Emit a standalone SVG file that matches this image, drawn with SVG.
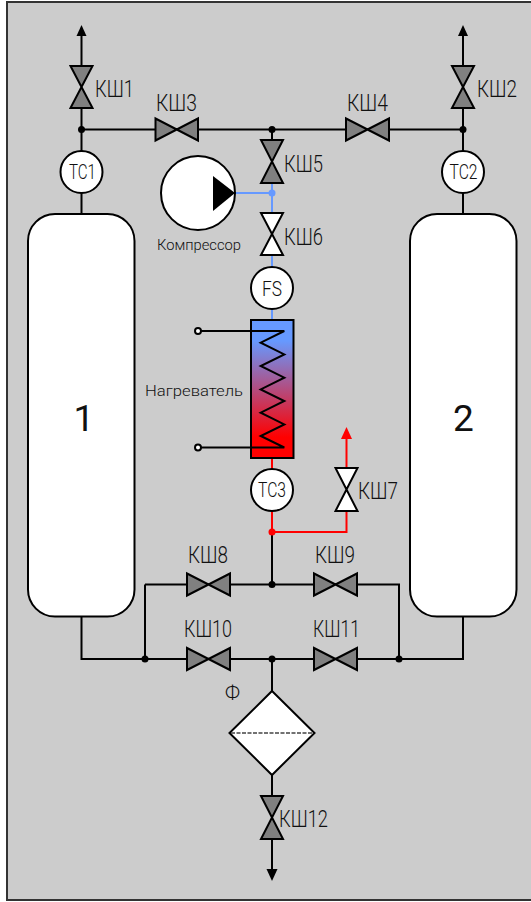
<svg xmlns="http://www.w3.org/2000/svg" width="531" height="902" viewBox="0 0 531 902">
<style>
.w{fill:none;stroke:#000;stroke-width:2}
.b{stroke:#6699ff}
.r{stroke:#ff0000}
.n{fill:#fff;stroke:#000;stroke-width:2}
.v{fill:#808080;stroke:#000;stroke-width:2;stroke-linejoin:miter}
.o{fill:#fff}
text{font-family:"Roboto","Liberation Sans",sans-serif;font-weight:300;fill:#111;font-size:23px}
.t{font-size:20px}
.s{font-size:15.500px}
.d{font-size:37px;font-weight:400;text-anchor:middle}
</style>
<defs>
<linearGradient id="heat" x1="0" y1="0" x2="0" y2="1">
<stop offset="0.15" stop-color="#6699ff"/>
<stop offset="0.85" stop-color="#ff0000"/>
</linearGradient>
</defs>
<rect x="7" y="2" width="530" height="898" fill="#cccccc" stroke="#333" stroke-width="2"/>
<g id="connectors">
<path class="w" d="M81.500 36V66M81.500 108V151M81.500 193V214M81.500 129.500H155.500M198 129.500H346M389 129.500H463M272 129.500V140M463 36V66M463 108V151M463 193V214"/>
<path class="w b" d="M235 193H272M272 183V213M272 255V267M272 309V320"/>
<path class="w r" d="M272 458V469M272 511V532M272 532H346.500V511M346.500 468V439"/>
<path class="w" d="M272 532V584.500M145 584.500H187M230 584.500H314M357 584.500H399V659M145 584.500V659M81.500 616V659H187M230 659H314M357 659H463V616M272 659V691M272 775V796M272 839V869"/>
<polygon points="81.500,25 76.500,36 86.500,36" fill="#000"/>
<polygon points="463,25 458,36 468,36" fill="#000"/>
<polygon points="346.500,427 341,439 352,439" fill="#ff0000"/>
<polygon points="272,881 266.500,869 277.500,869" fill="#000"/>
<circle cx="81.500" cy="129.500" r="3.500"/>
<circle cx="272" cy="129.500" r="3.500"/>
<circle cx="463" cy="129.500" r="3.500"/>
<circle cx="272" cy="193" r="3.500" fill="#6699ff"/>
<circle cx="272" cy="532" r="3.500" fill="#ff0000"/>
<circle cx="272" cy="584.500" r="3.500"/>
<circle cx="145" cy="659" r="3.500"/>
<circle cx="272" cy="659" r="3.500"/>
<circle cx="399" cy="659" r="3.500"/>
</g>
<g id="tank1"><rect class="n" x="28" y="214" width="106.500" height="402.500" rx="27"/><text x="84" y="431" class="d">1</text></g>
<g id="tank2"><rect class="n" x="410" y="214" width="106.500" height="402.500" rx="27"/><text x="463.500" y="431" class="d">2</text></g>
<g id="tc1"><circle class="n" cx="81.500" cy="172" r="21"/><text x="69" y="179" class="t" textLength="27" lengthAdjust="spacingAndGlyphs">TC1</text></g>
<g id="tc2"><circle class="n" cx="463" cy="172" r="21"/><text x="449.500" y="179" class="t" textLength="28" lengthAdjust="spacingAndGlyphs">TC2</text></g>
<g id="tc3"><circle class="n" cx="272" cy="490" r="21"/><text x="258" y="497" class="t" textLength="28" lengthAdjust="spacingAndGlyphs">TC3</text></g>
<g id="fs"><circle class="n" cx="272" cy="288" r="21"/><text x="262" y="295.500" class="t" textLength="20" lengthAdjust="spacingAndGlyphs">FS</text></g>
<g id="compressor"><circle class="n" cx="198" cy="193" r="37"/><polygon points="213,176 235,193 213,211" fill="#000"/><text x="157" y="250" class="s" textLength="84" lengthAdjust="spacingAndGlyphs">Компрессор</text></g>
<g id="heater"><rect x="251" y="320" width="42.500" height="138" fill="url(#heat)" stroke="#000" stroke-width="2"/>
<path class="w" d="M201 331H284.300L260.700 342.700L284.300 354.400L260.700 366L284.300 377.700L260.700 389.400L284.300 401L260.700 412.700L284.300 424.400L260.700 436L284.300 447.500H201"/>
<circle class="n" cx="198" cy="331" r="3"/><circle class="n" cx="198" cy="447.500" r="3"/>
<text x="145" y="396" class="s" textLength="98" lengthAdjust="spacingAndGlyphs">Нагреватель</text></g>
<g id="ksh1"><polygon class="v" points="70.500,66 92.500,66 70.500,108 92.500,108"/><text x="95" y="97" textLength="39" lengthAdjust="spacingAndGlyphs">КШ1</text></g>
<g id="ksh2"><polygon class="v" points="452,66 474,66 452,108 474,108"/><text x="477" y="97" textLength="40" lengthAdjust="spacingAndGlyphs">КШ2</text></g>
<g id="ksh3"><polygon class="v" points="155.500,118.500 155.500,140.500 198,118.500 198,140.500"/><text x="156" y="111" textLength="41" lengthAdjust="spacingAndGlyphs">КШ3</text></g>
<g id="ksh4"><polygon class="v" points="346,118.500 346,140.500 389,118.500 389,140.500"/><text x="347" y="111" textLength="41" lengthAdjust="spacingAndGlyphs">КШ4</text></g>
<g id="ksh5"><polygon class="v" points="261,140 283,140 261,183 283,183"/><text x="284" y="172" textLength="39" lengthAdjust="spacingAndGlyphs">КШ5</text></g>
<g id="ksh6"><polygon class="v o" points="261,213 283,213 261,255 283,255"/><text x="284" y="245" textLength="39" lengthAdjust="spacingAndGlyphs">КШ6</text></g>
<g id="ksh7"><polygon class="v o" points="335.500,468 357.500,468 335.500,511 357.500,511"/><text x="358" y="499" textLength="40" lengthAdjust="spacingAndGlyphs">КШ7</text></g>
<g id="ksh8"><polygon class="v" points="187,573.500 187,595.500 230,573.500 230,595.500"/><text x="188" y="563" textLength="40" lengthAdjust="spacingAndGlyphs">КШ8</text></g>
<g id="ksh9"><polygon class="v" points="314,573.500 314,595.500 357,573.500 357,595.500"/><text x="315" y="563" textLength="40" lengthAdjust="spacingAndGlyphs">КШ9</text></g>
<g id="ksh10"><polygon class="v" points="187,648 187,670 230,648 230,670"/><text x="184" y="637" textLength="48" lengthAdjust="spacingAndGlyphs">КШ10</text></g>
<g id="ksh11"><polygon class="v" points="314,648 314,670 357,648 357,670"/><text x="313" y="637" textLength="47" lengthAdjust="spacingAndGlyphs">КШ11</text></g>
<g id="ksh12"><polygon class="v" points="261,796 283,796 261,839 283,839"/><text x="279" y="827" textLength="49" lengthAdjust="spacingAndGlyphs">КШ12</text></g>
<g id="filter"><polygon class="n" points="272,691 314.500,733 272,775 229.500,733"/><line x1="231" y1="733" x2="313" y2="733" stroke="#444" stroke-width="1.500" stroke-dasharray="4 1.500"/><text x="225" y="700" class="t" textLength="15" lengthAdjust="spacingAndGlyphs">Ф</text></g>
</svg>
